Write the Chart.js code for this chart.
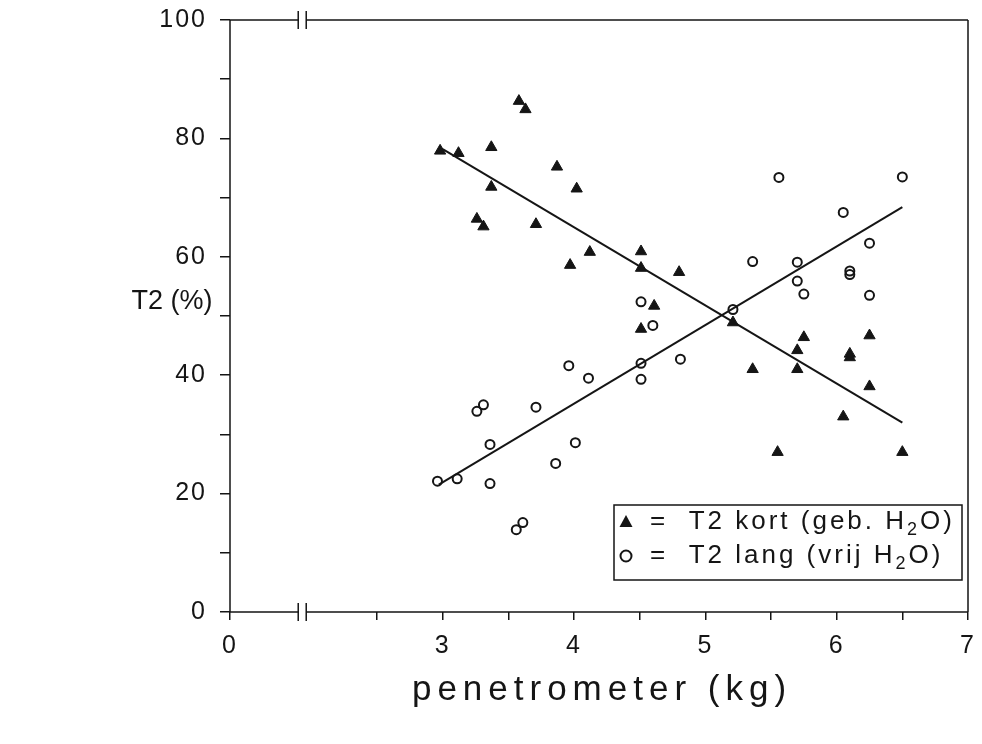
<!DOCTYPE html>
<html>
<head>
<meta charset="utf-8">
<script src="https://cdn.jsdelivr.net/npm/chart.js@4.4.0/dist/chart.umd.min.js"></script>
<style>
html, body { margin: 0; padding: 0; background: #fff; }
#wrap { width: 982px; height: 744px; position: relative; }
</style>
</head>
<body>
<div id="wrap"><canvas id="chart" width="982" height="744"></canvas></div>
<script>
"use strict"

// T2 kort (geb. H2O) - filled triangles
const kortX = [2.98, 3.12, 3.37, 3.37, 3.26, 3.31, 3.58, 3.63, 3.71, 3.87,
               3.97, 4.02, 4.12, 4.51, 4.51, 4.51, 4.61, 4.80, 5.21, 5.36,
               5.55, 5.70, 5.70, 5.75, 6.05, 6.10, 6.10, 6.25, 6.25, 6.50];
const kortY = [77.9, 77.5, 78.5, 71.8, 66.4, 65.1, 86.3, 84.9, 65.5, 75.2,
               58.6, 71.5, 60.8, 60.9, 58.1, 47.8, 51.7, 57.4, 48.9, 41.0,
               27.0, 44.2, 41.0, 46.4, 33.0, 43.0, 43.6, 46.7, 38.1, 27.0];

// T2 lang (vrij H2O) - open circles
const langX = [2.96, 3.11, 3.26, 3.31, 3.36, 3.36, 3.56, 3.61, 3.71, 3.86,
               3.96, 4.01, 4.11, 4.51, 4.51, 4.51, 4.60, 4.81, 5.21, 5.36,
               5.56, 5.70, 5.70, 5.75, 6.05, 6.10, 6.10, 6.25, 6.25, 6.50];
const langY = [22.1, 22.5, 33.9, 35.0, 21.7, 28.3, 13.9, 15.1, 34.6, 25.1,
               41.6, 28.6, 39.5, 42.0, 39.3, 52.4, 48.4, 42.7, 51.1, 59.2,
               73.4, 59.1, 55.9, 53.7, 67.5, 57.0, 57.6, 62.3, 53.5, 73.5];

// regression lines (end points)
const kortFitX = [3.0, 6.5];
const kortFitY = [78.2, 32.0];
const langFitX = [2.97, 6.5];
const langFitY = [21.5, 68.4];

// axes
const xTicks = [0, 2.5, 3, 3.5, 4, 4.5, 5, 5.5, 6, 6.5, 7];
const xTickLabels = ["0", "", "3", "", "4", "", "5", "", "6", "", "7"];
const yTicks = [0, 10, 20, 30, 40, 50, 60, 70, 80, 90, 100];
const yTickLabels = ["0", "", "20", "", "40", "", "60", "", "80", "", "100"];

const xAxisStart = 1.38;  // the broken axis starts here, shown as 0
const xBreak = 1.93;

const ink = "#151515";
const fontFamily = '"Liberation Sans", Arial, sans-serif';

function toPoints(xs, ys) {
    return xs.map((x, i) => ({ x: x, y: ys[i] }));
}

function drawRich(ctx, parts, x, y, size) {
    for (const p of parts) {
        if (p.sub) {
            ctx.font = Math.round(size * 0.68) + "px " + fontFamily;
            ctx.fillText(p.t, x, y + size * 0.3);
        } else {
            ctx.font = size + "px " + fontFamily;
            ctx.fillText(p.t, x, y);
        }
        x += ctx.measureText(p.t).width;
    }
}

const decorations = {
    id: "decorations",
    beforeDraw(chart) {
        chart.ctx.letterSpacing = "2px";
    },
    beforeDatasetsDraw(chart) {
        const ctx = chart.ctx;
        const a = chart.chartArea;
        const bx = chart.scales.x.getPixelForValue(xBreak);
        ctx.save();
        ctx.strokeStyle = ink;
        ctx.lineWidth = 1.5;
        ctx.beginPath();
        ctx.moveTo(a.left, a.top); ctx.lineTo(a.left, a.bottom);
        ctx.moveTo(a.right, a.top); ctx.lineTo(a.right, a.bottom);
        // top and bottom, with a gap at the break
        for (const y of [a.top, a.bottom]) {
            ctx.moveTo(a.left, y); ctx.lineTo(bx - 4, y);
            ctx.moveTo(bx + 4, y); ctx.lineTo(a.right, y);
            ctx.moveTo(bx - 4, y - 9); ctx.lineTo(bx - 4, y + 9);
            ctx.moveTo(bx + 4, y - 9); ctx.lineTo(bx + 4, y + 9);
        }
        ctx.stroke();
        ctx.restore();
    },
    afterDraw(chart) {
        const ctx = chart.ctx;
        const a = chart.chartArea;
        ctx.save();
        ctx.fillStyle = ink;
        ctx.textBaseline = "middle";

        // axis titles
        ctx.textAlign = "center";
        ctx.letterSpacing = "6px";
        ctx.font = "35px " + fontFamily;
        ctx.fillText("penetrometer (kg)", (a.left + a.right) / 2 + 3, 690);
        ctx.letterSpacing = "0px";
        ctx.font = "27px " + fontFamily;
        ctx.fillText("T2 (%)", 172, 302);

        // legend
        const lx = 614, ly = 505, lw = a.right - 6 - lx, lh = 75;
        ctx.strokeStyle = ink;
        ctx.lineWidth = 1.5;
        ctx.strokeRect(lx, ly, lw, lh);

        ctx.beginPath();
        ctx.moveTo(626, 515); ctx.lineTo(632.5, 527); ctx.lineTo(619.5, 527);
        ctx.closePath();
        ctx.fill();
        ctx.lineWidth = 2;
        ctx.beginPath();
        ctx.arc(626, 556, 5.5, 0, Math.PI * 2);
        ctx.stroke();

        ctx.textAlign = "left";
        ctx.letterSpacing = "3px";
        drawRich(ctx, [{ t: "=  T2 kort (geb. H" }, { t: "2", sub: true }, { t: "O)" }], 650, 522, 26);
        drawRich(ctx, [{ t: "=  T2 lang (vrij H" }, { t: "2", sub: true }, { t: "O)" }], 650, 556, 26);
        ctx.restore();
    }
};

const config = {
    type: "scatter",
    data: {
        datasets: [
            {
                label: "T2 kort (geb. H2O)",
                data: toPoints(kortX, kortY),
                pointStyle: "triangle",
                pointRadius: 6.5,
                backgroundColor: ink,
                borderColor: ink,
                borderWidth: 1,
            },
            {
                label: "T2 lang (vrij H2O)",
                data: toPoints(langX, langY),
                pointStyle: "circle",
                pointRadius: 4.5,
                backgroundColor: "rgba(255,255,255,0)",
                borderColor: ink,
                borderWidth: 2,
            },
            {
                type: "line",
                label: "fit kort",
                data: toPoints(kortFitX, kortFitY),
                borderColor: ink,
                borderWidth: 2,
                pointRadius: 0,
                fill: false,
            },
            {
                type: "line",
                label: "fit lang",
                data: toPoints(langFitX, langFitY),
                borderColor: ink,
                borderWidth: 2,
                pointRadius: 0,
                fill: false,
            },
        ]
    },
    options: {
        responsive: false,
        devicePixelRatio: 1,
        animation: false,
        layout: { padding: { top: 20, right: 14, left: 0, bottom: 0 } },
        plugins: {
            legend: { display: false },
            tooltip: { enabled: false },
        },
        scales: {
            x: {
                type: "linear",
                min: xAxisStart,
                max: 7,
                border: { display: false },
                grid: { drawOnChartArea: false, drawTicks: true, tickLength: 8, color: ink, lineWidth: 1.5 },
                ticks: {
                    autoSkip: false,
                    maxRotation: 0,
                    padding: 11,
                    color: ink,
                    font: { family: fontFamily, size: 25 },
                    callback: (value, index) => xTickLabels[index],
                },
                afterBuildTicks: (scale) => {
                    scale.ticks = xTicks.map(v => ({ value: v === 0 ? xAxisStart : v }));
                },
                afterFit: (scale) => {
                    scale.height = 132;
                    scale.paddingLeft = 0;
                    scale.paddingRight = 0;
                },
            },
            y: {
                min: 0,
                max: 100,
                border: { display: false },
                grid: { drawOnChartArea: false, drawTicks: true, tickLength: 10, color: ink, lineWidth: 1.5 },
                ticks: {
                    padding: 13,
                    color: ink,
                    font: { family: fontFamily, size: 25 },
                    callback: (value, index) => yTickLabels[index],
                },
                afterBuildTicks: (scale) => {
                    scale.ticks = yTicks.map(v => ({ value: v }));
                },
                afterFit: (scale) => {
                    scale.width = 230;
                    scale.paddingTop = 0;
                    scale.paddingBottom = 0;
                },
            },
        },
    },
    plugins: [decorations],
};

const myChart = new Chart(document.getElementById("chart"), config);
</script>
</body>
</html>
